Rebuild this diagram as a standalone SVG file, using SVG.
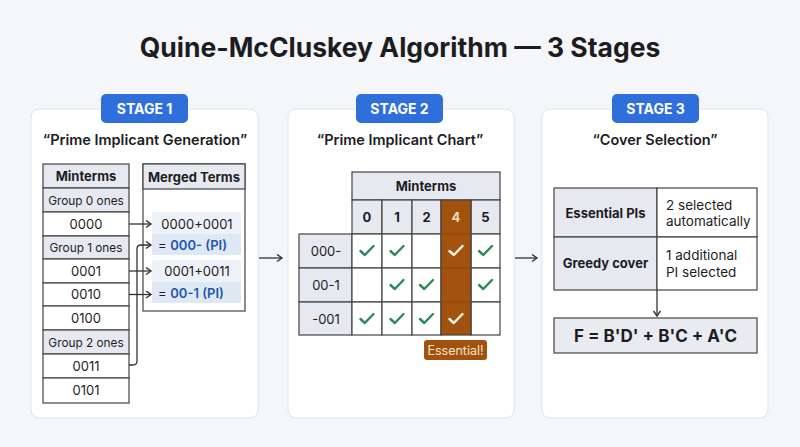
<svg xmlns="http://www.w3.org/2000/svg" width="800" height="447" viewBox="0 0 800 447">
<defs>
<marker id="ah" markerWidth="8" markerHeight="10" refX="6" refY="4" orient="auto" markerUnits="userSpaceOnUse">
<path d="M1,0.5 L6,4 L1,7.5" fill="none" stroke="#333" stroke-width="1.4"/>
</marker>
<symbol id="chk" viewBox="0 0 16 12" overflow="visible">
<path d="M1.5,6.5 L5.8,10.5 L14.5,1.5" fill="none" stroke-width="2.4" stroke-linecap="round" stroke-linejoin="round"/>
</symbol>
</defs>
<style>
text{font-family:Inter,"Liberation Sans",sans-serif;fill:#1d1d1f}
.panel{fill:#fff;stroke:#e0e4eb;stroke-width:1}
.badge{fill:#2f6fdc}
.badgeT{fill:#fff;font-size:14px;font-weight:700;text-anchor:middle}
.sub{font-size:14.5px;font-weight:600;text-anchor:middle}
.cell{fill:#fff;stroke:#444;stroke-width:1.2}
.hcell{fill:#e6e9ef;stroke:#444;stroke-width:1.2}
.hdr{font-size:13px;font-weight:700;text-anchor:middle}
.t{font-size:13px;text-anchor:middle}
.g{font-size:11.8px;text-anchor:middle}
.pi{fill:#2457b0;font-weight:600}
.conn{fill:none;stroke:#333;stroke-width:1.3}
.gc{stroke:#2a8a5a}
.wc{stroke:#fff4e6}
.brown{fill:#a2520f}
</style>
<rect width="800" height="447" fill="#f4f6fa"/>
<text x="400" y="57" font-size="26.5" font-weight="700" text-anchor="middle">Quine-McCluskey Algorithm — 3 Stages</text>

<g id="stage1">
<rect class="panel" x="31" y="109" width="227" height="309" rx="8"/>
<rect class="badge" x="101" y="94" width="87" height="29" rx="5"/>
<text class="badgeT" x="144.5" y="113.5">STAGE 1</text>
<text class="sub" x="145" y="145">“Prime Implicant Generation”</text>
</g>

<g id="minterms-table">
<rect class="hcell" x="43" y="164" width="86" height="24"/>
<text class="hdr" x="86" y="181">Minterms</text>
<rect class="hcell" x="43" y="188" width="86" height="24"/>
<text class="g" x="86" y="204.5">Group 0 ones</text>
<rect class="cell" x="43" y="212" width="86" height="24"/>
<text class="t" x="86" y="228.5">0000</text>
<rect class="hcell" x="43" y="236" width="86" height="23"/>
<text class="g" x="86" y="252">Group 1 ones</text>
<rect class="cell" x="43" y="259" width="86" height="24"/>
<text class="t" x="86" y="275.5">0001</text>
<rect class="cell" x="43" y="283" width="86" height="23"/>
<text class="t" x="86" y="299">0010</text>
<rect class="cell" x="43" y="306" width="86" height="24"/>
<text class="t" x="86" y="322.5">0100</text>
<rect class="hcell" x="43" y="330" width="86" height="24"/>
<text class="g" x="86" y="346.5">Group 2 ones</text>
<rect class="cell" x="43" y="354" width="86" height="24"/>
<text class="t" x="86" y="370.5">0011</text>
<rect class="cell" x="43" y="378" width="86" height="25"/>
<text class="t" x="86" y="395">0101</text>
</g>

<g id="merged-terms">
<rect class="cell" x="143" y="164" width="102" height="147"/>
<rect class="hcell" x="143" y="164" width="102" height="25"/>
<text class="hdr" x="194" y="181.5">Merged Terms</text>
<rect x="152" y="212" width="89" height="43" rx="2" fill="#edf2f9"/>
<rect x="152" y="234" width="89" height="21" rx="2" fill="#dfe9f6"/>
<text class="t" x="197" y="228.5">0000+0001</text>
<text x="158" y="250" font-size="13"><tspan>= </tspan><tspan class="pi">000- (PI)</tspan></text>
<rect x="152" y="260" width="89" height="43" rx="2" fill="#edf2f9"/>
<rect x="152" y="282" width="89" height="21" rx="2" fill="#dfe9f6"/>
<text class="t" x="197" y="276">0001+0011</text>
<text x="158" y="297.5" font-size="13"><tspan>= </tspan><tspan class="pi">00-1 (PI)</tspan></text>
</g>

<g id="stage2">
<rect class="panel" x="288" y="109" width="226" height="309" rx="8"/>
<rect class="badge" x="356" y="94" width="87" height="29" rx="5"/>
<text class="badgeT" x="399.5" y="113.5">STAGE 2</text>
<text class="sub" x="400" y="145">“Prime Implicant Chart”</text>
</g>

<g id="pi-chart">
<rect class="hcell" x="352" y="172" width="148" height="28"/>
<text class="hdr" x="426" y="191">Minterms</text>
<rect class="hcell" x="352" y="200" width="30" height="34"/>
<rect class="hcell" x="382" y="200" width="30" height="34"/>
<rect class="hcell" x="412" y="200" width="29" height="34"/>
<rect class="hcell" x="471" y="200" width="29" height="34"/>
<text class="hdr" x="367" y="221.5">0</text>
<text class="hdr" x="397" y="221.5">1</text>
<text class="hdr" x="426.5" y="221.5">2</text>
<text class="hdr" x="485.5" y="221.5">5</text>
<rect class="hcell" x="299" y="234" width="53" height="34"/>
<rect class="hcell" x="299" y="268" width="53" height="34"/>
<rect class="hcell" x="299" y="302" width="53" height="33"/>
<text class="t" x="326" y="256">000-</text>
<text class="t" x="326" y="290">00-1</text>
<text class="t" x="326" y="323.5">-001</text>
<g>
<rect class="cell" x="352" y="234" width="30" height="34"/><rect class="cell" x="382" y="234" width="30" height="34"/><rect class="cell" x="412" y="234" width="29" height="34"/><rect class="cell" x="471" y="234" width="29" height="34"/>
<rect class="cell" x="352" y="268" width="30" height="34"/><rect class="cell" x="382" y="268" width="30" height="34"/><rect class="cell" x="412" y="268" width="29" height="34"/><rect class="cell" x="471" y="268" width="29" height="34"/>
<rect class="cell" x="352" y="302" width="30" height="33"/><rect class="cell" x="382" y="302" width="30" height="33"/><rect class="cell" x="412" y="302" width="29" height="33"/><rect class="cell" x="471" y="302" width="29" height="33"/>
</g>
<rect class="brown" x="441" y="200" width="30" height="135" stroke="#444" stroke-width="1.2"/>
<line x1="441" y1="234" x2="471" y2="234" stroke="#8a4409" stroke-width="1"/>
<line x1="441" y1="268" x2="471" y2="268" stroke="#8a4409" stroke-width="1"/>
<line x1="441" y1="302" x2="471" y2="302" stroke="#8a4409" stroke-width="1"/>
<text class="hdr" x="456" y="221.5" style="fill:#f6dcb8">4</text>
<use href="#chk" class="gc" x="359" y="244.5" width="16" height="12"/>
<use href="#chk" class="gc" x="389" y="244.5" width="16" height="12"/>
<use href="#chk" class="wc" x="448" y="244.5" width="16" height="12"/>
<use href="#chk" class="gc" x="477.5" y="244.5" width="16" height="12"/>
<use href="#chk" class="gc" x="389" y="278.5" width="16" height="12"/>
<use href="#chk" class="gc" x="418.5" y="278.5" width="16" height="12"/>
<use href="#chk" class="gc" x="477.5" y="278.5" width="16" height="12"/>
<use href="#chk" class="gc" x="359" y="312.5" width="16" height="12"/>
<use href="#chk" class="gc" x="389" y="312.5" width="16" height="12"/>
<use href="#chk" class="gc" x="418.5" y="312.5" width="16" height="12"/>
<use href="#chk" class="wc" x="448" y="312.5" width="16" height="12"/>
<rect class="brown" x="424" y="340" width="63" height="20" rx="3"/>
<text x="455.5" y="354.5" font-size="12.5" text-anchor="middle" style="fill:#fbe3c6">Essential!</text>
</g>

<g id="stage3">
<rect class="panel" x="542" y="109" width="226" height="309" rx="8"/>
<rect class="badge" x="612" y="94" width="87" height="29" rx="5"/>
<text class="badgeT" x="655.5" y="113.5">STAGE 3</text>
<text class="sub" x="655" y="145">“Cover Selection”</text>
</g>

<g id="cover-table">
<rect class="hcell" x="554" y="188" width="103" height="49"/>
<rect class="cell" x="657" y="188" width="100" height="49"/>
<rect class="hcell" x="554" y="237" width="103" height="53"/>
<rect class="cell" x="657" y="237" width="100" height="53"/>
<text class="hdr" x="605.5" y="217.5">Essential PIs</text>
<text x="666" y="210" font-size="13.5">2 selected</text>
<text x="666" y="226" font-size="13.5">automatically</text>
<text class="hdr" x="605.5" y="268">Greedy cover</text>
<text x="666" y="260" font-size="13.5">1 additional</text>
<text x="666" y="277" font-size="13.5">PI selected</text>
</g>

<g id="formula">
<rect x="554" y="318" width="203" height="35" fill="#e8ebf0" stroke="#444" stroke-width="1.2"/>
<text x="655.5" y="342" font-size="17" font-weight="700" text-anchor="middle">F = B'D' + B'C + A'C</text>
</g>

<g id="connectors">
<line class="conn" x1="129" y1="224" x2="151" y2="224" marker-end="url(#ah)"/>
<line class="conn" x1="129" y1="271" x2="151" y2="271" marker-end="url(#ah)"/>
<line class="conn" x1="129" y1="294.5" x2="151" y2="294.5" marker-end="url(#ah)"/>
<path class="conn" d="M129,365 H133 Q137,365 137,361 V249 Q137,245 141,245 H151" marker-end="url(#ah)"/>
<line class="conn" x1="259" y1="258" x2="282" y2="258" marker-end="url(#ah)"/>
<line class="conn" x1="515" y1="258" x2="537" y2="258" marker-end="url(#ah)"/>
<line class="conn" x1="657" y1="290" x2="657" y2="316" marker-end="url(#ah)"/>
</g>
</svg>
